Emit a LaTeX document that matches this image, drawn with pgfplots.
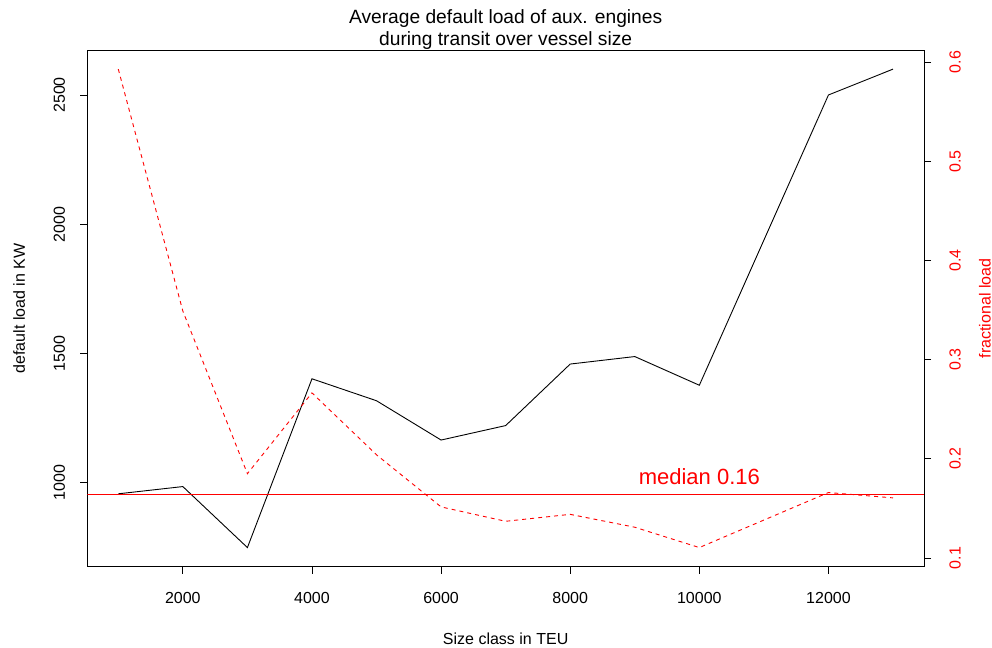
\documentclass[border=0pt]{standalone}
\usepackage{pgfplots}
\pgfplotsset{compat=1.18}
\usepackage{fontspec}
\setmainfont{Liberation Sans}
\definecolor{rred}{RGB}{255,0,0}
\begin{document}
\begin{tikzpicture}
\pgfplotsset{
  common/.style={
    scale only axis, width=836.7bp, height=516.7bp,
    at={(0,0)}, anchor=south west,
    xmin=520, xmax=13480,
    axis line style={line width=0.9bp, black},
    tick style={line width=0.9bp, black},
    major tick length=7bp, tick align=outside,
    /pgf/number format/assume math mode=true,
    /pgf/number format/1000 sep={},
    scaled ticks=false,
    ticklabel style={font=\fontsize{16bp}{19bp}\selectfont},
  }
}
\begin{axis}[common,
  ymin=675, ymax=2674,
  xtick={2000,4000,6000,8000,10000,12000},
  ytick={1000,1500,2000,2500},
  xtick pos=bottom, ytick pos=left,
  xticklabel style={anchor=base, yshift=-29.7bp},
  yticklabel style={xshift=-15.3bp, rotate=90, anchor=base},
  every axis x label/.style={at={([yshift=-77.3bp]rel axis cs:0.5,0)}, anchor=base, font=\fontsize{16bp}{19bp}\selectfont},
  every axis y label/.style={at={([xshift=-62.3bp]rel axis cs:0,0.5)}, rotate=90, anchor=base, font=\fontsize{16bp}{19bp}\selectfont},
  xlabel={Size class in TEU},
  ylabel={default load in KW},
]
\addplot[black, line width=0.9bp] coordinates {
(1000,957) (2000,985) (3000,749) (4000,1402) (5000,1317) (6000,1165)
(7000,1221) (8000,1459) (9000,1488) (10000,1377) (12000,2500) (13000,2600)
};
\end{axis}
\begin{axis}[common,
  ymin=0.0912, ymax=0.6123,
  xtick=\empty,
  ytick={0.1,0.2,0.3,0.4,0.5,0.6},
  ytick pos=right,
  yticklabel style={xshift=29.7bp, rotate=90, anchor=base, text=rred,
    /pgf/number format/fixed, /pgf/number format/precision=1},
  every axis y label/.style={at={([xshift=66.5bp]rel axis cs:1,0.5)}, rotate=90, anchor=base, text=rred, font=\fontsize{16bp}{19bp}\selectfont},
  ylabel={fractional load},
]
\addplot[rred, line width=0.9bp, dash pattern=on 4bp off 4bp] coordinates {
(1000,0.593) (2000,0.349) (3000,0.185) (4000,0.2665) (5000,0.204) (6000,0.1515)
(7000,0.137) (8000,0.144) (9000,0.131) (10000,0.1105) (12000,0.166) (13000,0.1606)
};
\addplot[rred, line width=0.9bp] coordinates {(520,0.164) (13480,0.164)};
\node[anchor=base, text=rred, font=\fontsize{22bp}{26bp}\selectfont] at (axis cs:10000,0.1741) {median 0.16};
\end{axis}
\node[anchor=base, font=\fontsize{19.2bp}{22bp}\selectfont] at (418.35bp,543.4bp) {Average default load of aux. engines};
\node[anchor=base, font=\fontsize{19.2bp}{22bp}\selectfont] at (418.35bp,521.4bp) {during transit over vessel size};
\pgfresetboundingbox
\path[use as bounding box] (-87.3bp,-81.3bp) rectangle (904.7bp,566.7bp);
\end{tikzpicture}
\end{document}
